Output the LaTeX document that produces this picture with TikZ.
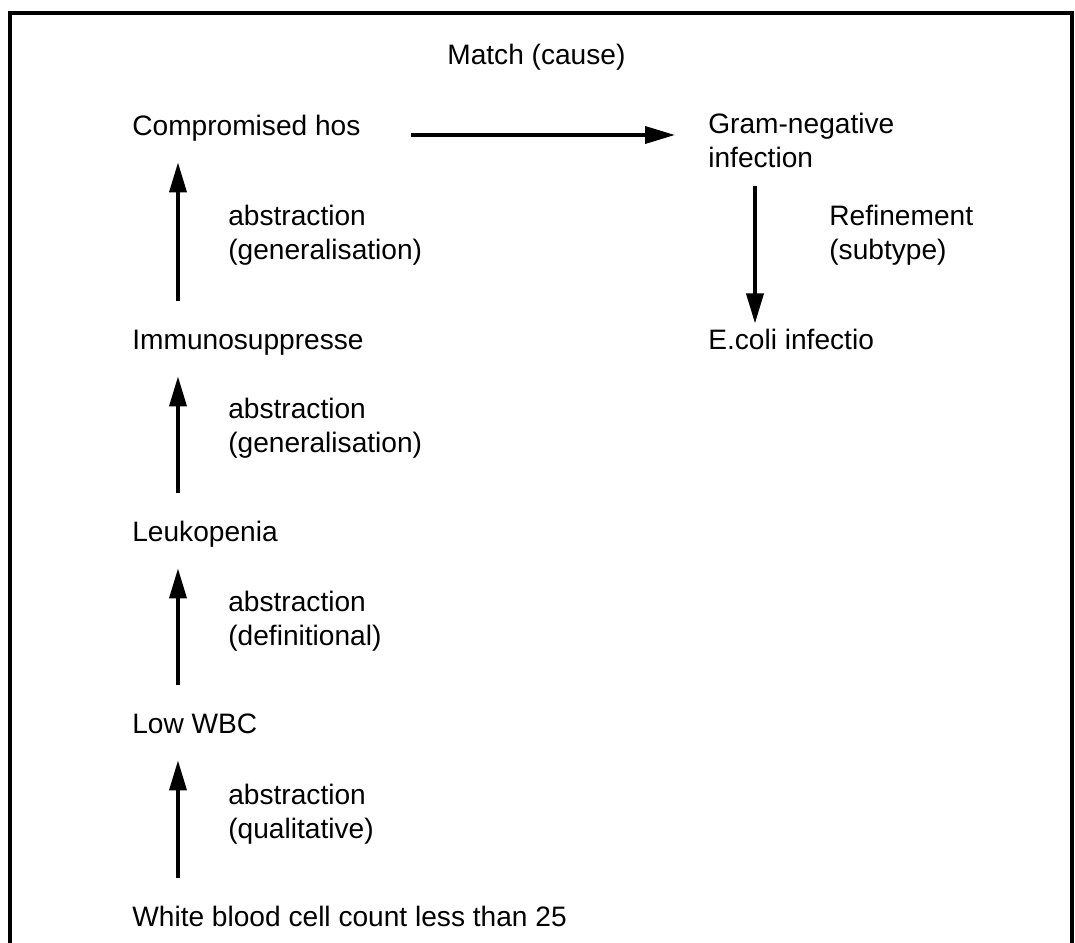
\documentclass[tikz,border=0pt]{standalone}
\usepackage{fontspec}
\setmainfont{Liberation Sans}
\usetikzlibrary{arrows.meta,positioning,calc}

\begin{document}
\begin{tikzpicture}[
    x=0.02cm, y=-0.02cm,
    every node/.style={font=\fontsize{16}{19.3}\selectfont, inner sep=0pt},
    term/.style={anchor=base west, text height=11.5pt, text depth=4pt},
    note/.style={anchor=north west, align=left},
    arr/.style={-{Triangle[length=0.6cm,width=0.34cm]}, line width=2.1pt},
    abstr/.style={arr, shorten <=0.54cm, shorten >=0.4cm}
]
\useasboundingbox (0,0) rectangle (1075,943);

% frame, open at the bottom
\draw[line width=2pt] (10,943) -- (10,13) -- (1072,13) -- (1072,943);

% left column
\node[term] (comp) at (132,135) {Compromised hos};
\node[term] (immuno) at (132,349) {Immunosuppresse};
\node[term] (leuko) at (132,541) {Leukopenia};
\node[term] (lowwbc) at (132,733) {Low WBC};
\node[term] (wbc) at (132,926) {White blood cell count less than 25};

\node[note] (gen1) at (228,205) {abstraction\\(generalisation)};
\node[note] (gen2) at (228,398) {abstraction\\(generalisation)};
\node[note] (defn) at (228,591) {abstraction\\(definitional)};
\node[note] (qual) at (228,784) {abstraction\\(qualitative)};

\draw[abstr] ([xshift=0.92cm]immuno.north west) -- ([xshift=0.92cm]comp.south west);
\draw[abstr] ([xshift=0.92cm]leuko.north west) -- ([xshift=0.92cm]immuno.south west);
\draw[abstr] ([xshift=0.92cm]lowwbc.north west) -- ([xshift=0.92cm]leuko.south west);
\draw[abstr] ([xshift=0.92cm]wbc.north west) -- ([xshift=0.92cm]lowwbc.south west);

% right column
\node[term] (match) at (447,64) {Match (cause)};
\node[note] (gram) at (708,113) {Gram-negative\\infection};
\node[term] (ecoli) at (708,349) {E.coli infectio};
\node[note] (refine) at (829,205) {Refinement\\(subtype)};

\draw[arr, shorten <=1.0cm, shorten >=0.66cm] (comp.base east) -- (comp.base east -| gram.west);
\draw[arr, shorten <=0.36cm, shorten >=0.1cm] ([xshift=0.94cm]gram.south west) -- ([xshift=0.94cm]ecoli.north west);

\end{tikzpicture}
\end{document}
